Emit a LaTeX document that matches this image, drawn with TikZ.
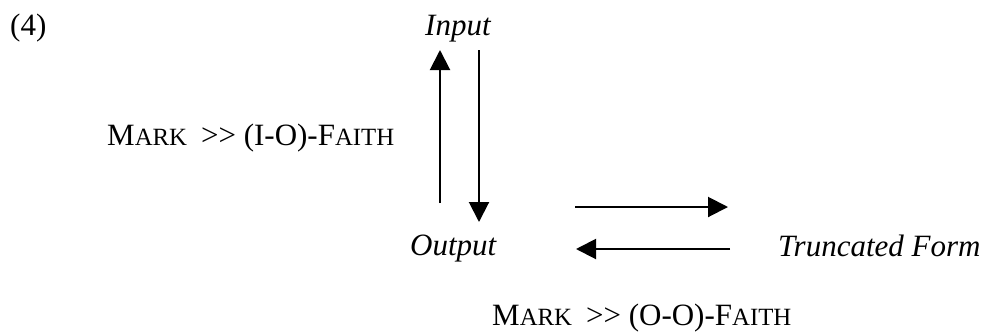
\documentclass[tikz,border=0pt]{standalone}
\usepackage{fontspec}
\setmainfont{Liberation Serif}
\usetikzlibrary{arrows.meta}
\newcommand{\mysmcap}[1]{{\fontsize{24.8}{30}\selectfont #1}}
\newcommand{\gtgt}{\mbox{>}\mbox{>}}
\begin{document}
\begin{tikzpicture}[x=1pt,y=-1pt,
  lbl/.style={anchor=base west,inner sep=0pt,font=\fontsize{31}{37}\selectfont},
  conn/.style={line width=2pt,-{Triangle[length=20pt,width=20pt]}}]
\useasboundingbox (0,0) rectangle (990,333);
\node[lbl] (num) at (10,35) {(4)};
\node[lbl] (input) at (425,35) {\textit{Input}};
\node[lbl] (mark1) at (107,145) {M\mysmcap{ARK}\hspace{0.45em}\gtgt{} (I-O)-F\mysmcap{AITH}};
\node[lbl] (output) at (410,255) {\textit{Output}};
\node[lbl] (trunc) at (778,256) {\textit{Truncated Form}};
\node[lbl] (mark2) at (492,325) {M\mysmcap{ARK}\hspace{0.45em}\gtgt{} (O-O)-F\mysmcap{AITH}};
\coordinate (upS) at (440,203);
\coordinate (upE) at (440,50);
\coordinate (dnS) at (479,50);
\coordinate (dnE) at (479,222);
\coordinate (rtS) at (575,207);
\coordinate (rtE) at (728,207);
\coordinate (ltS) at (730,249);
\coordinate (ltE) at (576,249);
\draw[conn] (upS) -- (upE);
\draw[conn] (dnS) -- (dnE);
\draw[conn] (rtS) -- (rtE);
\draw[conn] (ltS) -- (ltE);
\end{tikzpicture}
\end{document}
